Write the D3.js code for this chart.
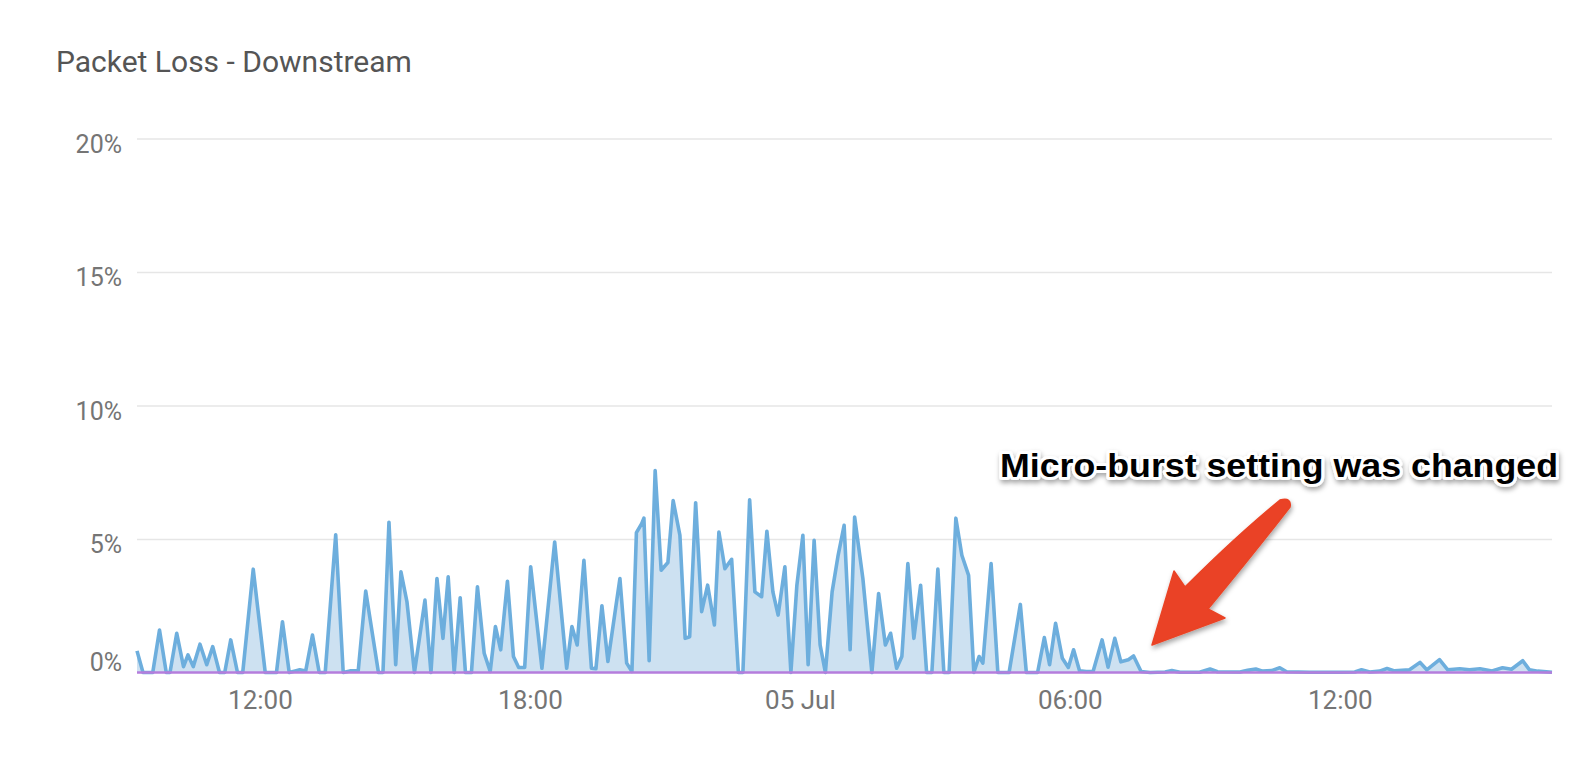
<!DOCTYPE html>
<html>
<head>
<meta charset="utf-8">
<script src="https://cdn.jsdelivr.net/npm/d3@7"></script>
<style>
  html, body { margin: 0; padding: 0; background: #fff; }
  svg { display: block; }
</style>
</head>
<body>
<svg id="chart" width="1580" height="760"></svg>
<script>
// ---- data ----
const chartTitle = "Packet Loss - Downstream";
const annotationText = "Micro-burst setting was changed";
const windowStart = new Date(2024, 6, 4, 9, 16);   // 04 Jul 09:16
const windowMinutes = 1887;                          // to 05 Jul ~16:43

// downstream loss (%), vertices in minutes after windowStart
const downOffsetMin = [
  0, 8, 21, 30, 39, 44, 53, 62, 68, 75, 84, 93, 101, 110, 117, 125, 134, 141, 155, 171,
  186, 194, 203, 211, 217, 225, 234, 243, 251, 265, 275, 284, 295, 305, 322,
  328, 336, 345, 352, 360, 370, 384, 392, 400, 408, 415, 423, 431, 438, 446, 454, 463, 471,
  478, 485, 494, 502, 509, 517, 525, 540, 557, 573, 580, 587, 596, 606, 612, 620, 628, 644,
  653, 660, 666, 673, 676, 683, 691, 699, 708, 715, 724, 731, 737, 745, 753, 761, 770, 776,
  784, 793, 802, 808, 817, 824, 833, 840, 848, 855, 864, 872, 880, 888, 895, 903, 911, 918,
  927, 935, 943, 951, 957,
  968, 980, 989, 998, 1005, 1013, 1020, 1028, 1036, 1045, 1053, 1060, 1068, 1076, 1083, 1092,
  1100, 1109, 1116, 1123, 1128, 1139, 1148, 1163, 1178, 1186, 1201, 1210, 1217, 1225, 1234,
  1242, 1249, 1257, 1266, 1275,
  1287, 1295, 1304, 1312, 1322, 1329, 1339, 1351, 1371, 1380, 1391, 1417, 1431, 1441, 1471,
  1481, 1492, 1501, 1513, 1524, 1533, 1564, 1604, 1624, 1633, 1644, 1657, 1667, 1677, 1697,
  1711, 1720, 1737, 1748, 1764, 1777, 1791, 1807, 1821, 1833, 1848, 1857, 1868, 1887
];
const downLoss = [
  0.81, 0, 0, 1.59, 0, 0, 1.47, 0.22, 0.66, 0.22, 1.06, 0.29, 0.97, 0, 0, 1.22, 0, 0, 3.87, 0,
  0, 1.9, 0, 0.06, 0.1, 0.06, 1.4, 0, 0, 5.16, 0, 0.06, 0.06, 3.05, 0,
  0, 5.63, 0.29, 3.77, 2.65, 0, 2.71, 0, 3.52, 1.28, 3.58, 0, 2.8, 0, 0, 3.21, 0.72, 0.04,
  1.72, 0.85, 3.42, 0.6, 0.19, 0.19, 3.96, 0.16, 4.89, 0.16, 1.72, 1.03, 4.2, 0.16, 0.14, 2.5, 0.41, 3.52,
  0.35, 0.04, 5.24, 5.57, 5.78, 0.44, 7.56, 3.83, 4.12, 6.44, 5.14, 1.28, 1.34, 6.36, 2.28, 3.27, 1.78, 5.26,
  3.89, 4.24, 0, 0, 6.47, 3.02, 2.84, 5.29, 3.02, 2.15, 3.96, 0, 3.27, 5.14, 0.29, 4.95, 1.03, 0,
  3.02, 4.39, 5.51, 0.85, 5.82,
  3.52, 0, 2.96, 1.03, 1.47, 0.16, 0.6, 4.08, 1.28, 3.27, 0, 0, 3.87, 0, 0, 5.78,
  4.39, 3.64, 0, 0.6, 0.35, 4.08, 0, 0, 2.55, 0, 0, 1.31, 0.29, 1.84, 0.53,
  0.19, 0.85, 0.06, 0.04, 0.04,
  1.22, 0.2, 1.28, 0.4, 0.48, 0.62, 0.04, 0, 0.02, 0.07, 0.01, 0.01, 0.13, 0.03, 0.02,
  0.08, 0.13, 0.05, 0.07, 0.18, 0.03, 0.01, 0.01, 0.02, 0.1, 0.02, 0.05, 0.15, 0.06, 0.1,
  0.38, 0.1, 0.48, 0.1, 0.14, 0.1, 0.14, 0.06, 0.18, 0.12, 0.44, 0.1, 0.05, 0.01
];
// second series drawn along the baseline
const upOffsetMin = [0, 1887];
const upLoss = [0, 0];

const yTicks = [0, 5, 10, 15, 20];
const xTickDates = [
  new Date(2024, 6, 4, 12), new Date(2024, 6, 4, 18), new Date(2024, 6, 5, 0),
  new Date(2024, 6, 5, 6), new Date(2024, 6, 5, 12)
];

// ---- layout ----
const svg = d3.select("#chart");
const plotL = 137, plotR = 1552, plotT = 138.5, plotB = 672.5;
const minute = 60000;
const toDate = m => new Date(windowStart.getTime() + m * minute);

const x = d3.scaleTime()
  .domain([windowStart, toDate(windowMinutes)])
  .range([plotL, plotR]);
const y = d3.scaleLinear().domain([0, 20]).range([plotB, plotT]);

const fontUI = "Roboto, 'Noto Sans', 'DejaVu Sans', sans-serif";

// title
svg.append("text")
  .attr("x", 56).attr("y", 72)
  .attr("font-family", fontUI).attr("font-size", 30)
  .attr("fill", "#555")
  .text(chartTitle);

// gridlines
const grid = svg.append("g").attr("transform", `translate(${plotL},0)`)
  .call(d3.axisLeft(y).tickValues(yTicks.filter(d => d > 0)).tickSize(-(plotR - plotL)).tickFormat(""));
grid.select(".domain").remove();
grid.selectAll("line").attr("stroke", "#e6e6e6").attr("stroke-width", 1.5);

// y axis labels
const yAx = svg.append("g").attr("transform", `translate(${plotL},0)`)
  .call(d3.axisLeft(y).tickValues(yTicks).tickSize(0).tickFormat(d => d + "%"));
yAx.select(".domain").remove();
yAx.selectAll("text")
  .attr("x", -15)
  .attr("dy", d => d === 0 ? "-2.5px" : "13.5px")
  .attr("font-family", fontUI).attr("font-size", 25).attr("fill", "#757575");

// x axis labels
const fmtH = d3.timeFormat("%H:%M"), fmtD = d3.timeFormat("%d %b");
const xAx = svg.append("g").attr("transform", `translate(0,${plotB})`)
  .call(d3.axisBottom(x).tickValues(xTickDates).tickSize(0)
    .tickFormat(d => d.getHours() === 0 ? fmtD(d) : fmtH(d)));
xAx.select(".domain").remove();
xAx.selectAll("text")
  .attr("y", 36).attr("dy", 0)
  .attr("font-family", fontUI).attr("font-size", 26).attr("fill", "#757575");

// series
const down = downOffsetMin.map((m, i) => ({ t: toDate(m), v: downLoss[i] }));
const up = upOffsetMin.map((m, i) => ({ t: toDate(m), v: upLoss[i] }));

svg.append("path").datum(down)
  .attr("d", d3.area().x(d => x(d.t)).y0(y(0)).y1(d => y(d.v)))
  .attr("fill", "#cde1f1");
svg.append("path").datum(down)
  .attr("d", d3.line().x(d => x(d.t)).y(d => y(d.v)))
  .attr("fill", "none").attr("stroke", "#6daedd").attr("stroke-width", 3.6)
  .attr("stroke-linejoin", "round");
svg.append("path").datum(up)
  .attr("d", d3.line().x(d => x(d.t)).y(d => y(d.v)))
  .attr("fill", "none").attr("stroke", "#b57ddc").attr("stroke-width", 2.5);

// ---- annotation ----
const defs = svg.append("defs");
const f = defs.append("filter").attr("id", "shadow").attr("x", "-10%").attr("y", "-30%").attr("width", "120%").attr("height", "170%");
f.append("feDropShadow").attr("dx", 1).attr("dy", 3).attr("stdDeviation", 2.5)
  .attr("flood-color", "#000").attr("flood-opacity", 0.35);

const annoX = 1000, annoY = 477;
svg.append("text")
  .attr("x", annoX).attr("y", annoY)
  .attr("textLength", 558).attr("lengthAdjust", "spacingAndGlyphs")
  .attr("font-family", "'Liberation Sans', Arial, Helvetica, sans-serif")
  .attr("font-weight", "bold").attr("font-size", 34)
  .attr("fill", "#fff").attr("stroke", "#fff").attr("stroke-width", 6)
  .attr("stroke-linejoin", "round")
  .attr("filter", "url(#shadow)")
  .text(annotationText);
svg.append("text")
  .attr("x", annoX).attr("y", annoY)
  .attr("textLength", 558).attr("lengthAdjust", "spacingAndGlyphs")
  .attr("font-family", "'Liberation Sans', Arial, Helvetica, sans-serif")
  .attr("font-weight", "bold").attr("font-size", 34)
  .attr("fill", "#000")
  .text(annotationText);

// arrow
const arrowPath = "M1280,500 Q1236,536 1185,587 L1174,571 L1152,645 L1225,618 L1208,609 Q1252,556 1290,507 Q1292,497 1280,500 Z";
svg.append("path").attr("d", arrowPath)
  .attr("fill", "#ea4325").attr("stroke", "#ea4325").attr("stroke-width", 1.5)
  .attr("stroke-linejoin", "round")
  .attr("filter", "url(#shadow)");
</script>
</body>
</html>
